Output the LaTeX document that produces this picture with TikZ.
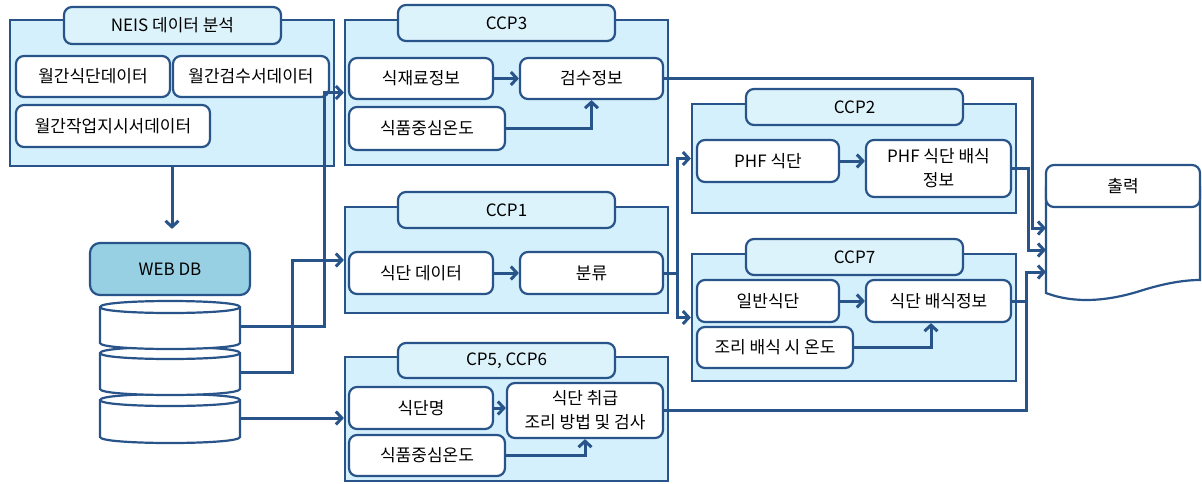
\documentclass[tikz,border=0pt]{standalone}
\usepackage{fontspec}
\setmainfont{Noto Sans CJK KR}
\usetikzlibrary{arrows.meta,calc}
\definecolor{lc}{RGB}{40,84,138}
\definecolor{gfill}{RGB}{212,240,252}
\definecolor{tfill}{RGB}{221,243,251}
\definecolor{dbfill}{RGB}{150,208,226}
\newcommand\fs{\fontsize{17}{24}\selectfont}
\tikzset{
 grp/.style={draw=lc, fill=gfill, line width=2.2pt, inner sep=0pt},
 tab/.style={draw=lc, fill=tfill, line width=2.2pt, rounded corners=8pt, inner sep=0pt, font=\fs},
 box/.style={draw=lc, fill=white, line width=2.2pt, rounded corners=8pt, inner sep=0pt, font=\fs, align=center},
 arr/.style={draw=lc, line width=3pt, -{Straight Barb[length=6pt,width=13pt]}},
 ln/.style={draw=lc, line width=3pt},
 cyl/.style={draw=lc, fill=white, line width=2.2pt},
}
\begin{document}
\begin{tikzpicture}[x=1pt,y=-1pt]
\useasboundingbox[fill=white] (0,0) rectangle (1202,483);

% ---------- NEIS ----------
\node[grp, minimum width=324pt, minimum height=146pt] (neis) at (172,93) {};
\node[tab, minimum width=217pt, minimum height=37pt] (neist) at (172.5,25.5) {NEIS 데이터 분석};
\node[box, minimum width=154pt, minimum height=41pt] (m1) at (93,76.5) {월간식단데이터};
\node[box, minimum width=156pt, minimum height=41pt] (m2) at (251,76.5) {월간검수서데이터};
\node[box, minimum width=194pt, minimum height=42pt] (m3) at (113,126) {월간작업지시서데이터};

% ---------- WEB DB ----------
\node[box, fill=dbfill, rounded corners=10pt, minimum width=160pt, minimum height=52pt] (webdb) at (170,269) {WEB DB};

% cylinders (bottom first)
\foreach \yt/\yb in {400/437, 353/389, 307/343}{
  \path[cyl] (100,\yt) -- (100,\yb) .. controls (100,\yb+8) and (240,\yb+8) .. (240,\yb)
     -- (240,\yt) .. controls (240,\yt-8) and (100,\yt-8) .. (100,\yt) -- cycle;
  \draw[draw=lc, line width=2.2pt] (100,\yt) .. controls (100,\yt+8) and (240,\yt+8) .. (240,\yt);
}
\coordinate (cy1) at (240,326);
\coordinate (cy2) at (240,372);
\coordinate (cy3) at (240,418);

% ---------- CCP3 ----------
\node[grp, minimum width=323pt, minimum height=145pt] (ccp3) at (506.5,92.5) {};
\node[tab, minimum width=217pt, minimum height=36pt] (ccp3t) at (506.5,23) {CCP3};
\node[box, minimum width=144pt, minimum height=41pt] (a1) at (421,78.5) {식재료정보};
\node[box, minimum width=143pt, minimum height=41pt] (a2) at (591.5,78.5) {검수정보};
\node[box, minimum width=156pt, minimum height=43pt] (a3) at (427,128.5) {식품중심온도};

% ---------- CCP1 ----------
\node[grp, minimum width=323pt, minimum height=106pt] (ccp1) at (506.5,260) {};
\node[tab, minimum width=217pt, minimum height=36pt] (ccp1t) at (506.5,210) {CCP1};
\node[box, minimum width=144pt, minimum height=42pt] (b1) at (421,273) {식단 데이터};
\node[box, minimum width=143pt, minimum height=42pt] (b2) at (591.5,273) {분류};

% ---------- CP5, CCP6 ----------
\node[grp, minimum width=323pt, minimum height=124pt] (ccp5) at (506.5,419) {};
\node[tab, minimum width=217pt, minimum height=35pt] (ccp5t) at (506.5,360.5) {CP5, CCP6};
\node[box, minimum width=144pt, minimum height=42pt] (c1) at (421,408) {식단명};
\node[box, minimum width=156pt, minimum height=55pt] (c2) at (585,410.5) {식단 취급\\조리 방법 및 검사};
\node[box, minimum width=156pt, minimum height=41pt] (c3) at (427,455.5) {식품중심온도};

% ---------- CCP2 ----------
\node[grp, minimum width=324pt, minimum height=109pt] (ccp2) at (854,158.5) {};
\node[tab, minimum width=217pt, minimum height=36pt] (ccp2t) at (854.5,107) {CCP2};
\node[box, minimum width=142pt, minimum height=42pt] (d1) at (768,161) {PHF 식단};
\node[box, minimum width=145pt, minimum height=57pt] (d2) at (938.5,168.5) {PHF 식단 배식\\정보};

% ---------- CCP7 ----------
\node[grp, minimum width=324pt, minimum height=127pt] (ccp7) at (854,317.5) {};
\node[tab, minimum width=217pt, minimum height=36pt] (ccp7t) at (854.5,257) {CCP7};
\node[box, minimum width=142pt, minimum height=42pt] (e1) at (768,301) {일반식단};
\node[box, minimum width=145pt, minimum height=42pt] (e2) at (938.5,301) {식단 배식정보};
\node[box, minimum width=156pt, minimum height=41pt] (e3) at (775,347.5) {조리 배식 시 온도};

% ---------- output ----------
\draw[draw=lc, line width=2.2pt] (1046,186) -- (1046,293) .. controls (1075,304) and (1108,301) .. (1140,291)
   .. controls (1165,283) and (1185,280) .. (1200,280) -- (1200,186);
\node[box, minimum width=154pt, minimum height=42pt] (out) at (1123,186) {출력};
\coordinate (o1) at (1046,228);
\coordinate (o2) at (1046,250);
\coordinate (o3) at (1046,272);

% ---------- connectors ----------
\draw[arr, shorten >=13pt] (neis.south) -- (neis.south |- webdb.north);
\draw[arr] (cy1) -- (324,326) |- (ccp3.west);
\draw[arr] (cy2) -- (292,372) |- (ccp1.west);
\draw[arr] (cy3) -- (cy3 -| ccp5.west);

\draw[arr] (a1.east) -- (a2.west);
\draw[arr] (a3.east) -| (a2.south);
\draw[arr] (b1.east) -- (b2.west);
\draw[arr] (c1.east) -- (c1.east -| c2.west);
\draw[arr] (c3.east) -| (c2.south);
\draw[arr] (d1.east) -- (d1.east -| d2.west);
\draw[arr] (e1.east) -- (e1.east -| e2.west);
\draw[arr] (e3.east) -| ([xshift=-7.5pt]e2.south);

\coordinate (sp) at (677,273);
\draw[ln] (b2.east) -- (sp);
\draw[arr] (sp) |- (ccp2.west);
\draw[arr] (sp) |- (ccp7.west);

\draw[arr] (a2.east) -| (1032,228) -- (o1);
\draw[arr] (d2.east) -| (1028,250) -- (o2);
\draw[arr] (e2.east) -| (1026,272) -- (o3);
\draw[ln] (c2.east) -| (1026,272);
\end{tikzpicture}
\end{document}
